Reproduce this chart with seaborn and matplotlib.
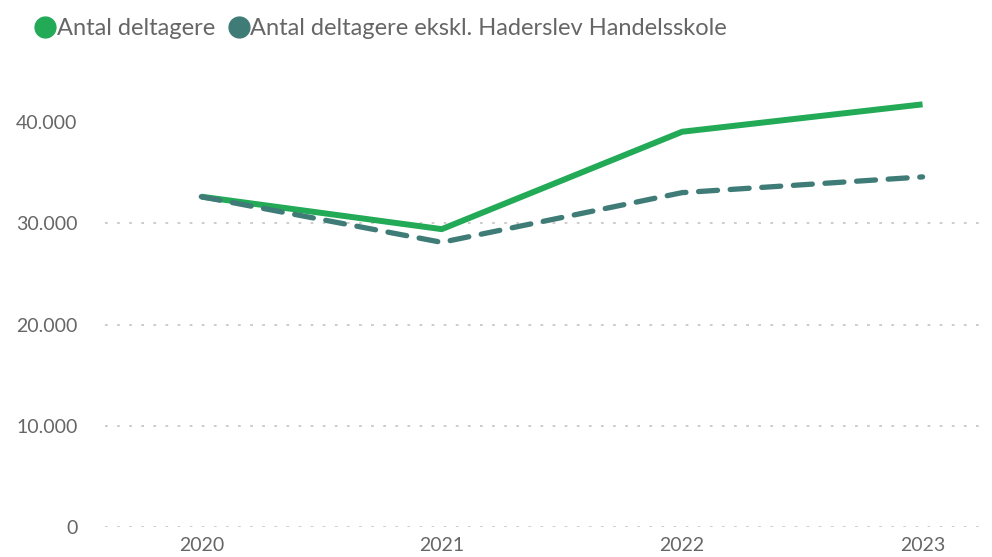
import pandas as pd
import matplotlib.pyplot as plt
import seaborn as sns
from matplotlib.lines import Line2D
from matplotlib.ticker import FuncFormatter

sns.set_style("white")
plt.rcParams["font.family"] = ["Lato", "DejaVu Sans"]

years = [2020, 2021, 2022, 2023]
deltagere = [32600, 29400, 39000, 41700]
deltagere_ekskl = [32600, 28100, 33000, 34550]
series_names = ["Antal deltagere", "Antal deltagere ekskl. Haderslev Handelsskole"]
colors = ["#22aa57", "#3f7c77"]
text_color = "#666666"

df = pd.DataFrame({
    "year": years * 2,
    "value": deltagere + deltagere_ekskl,
    "serie": [series_names[0]] * 4 + [series_names[1]] * 4,
})

fig = plt.figure(figsize=(9.92, 5.57), dpi=100)
ax = fig.add_axes([0.106, 0.053, 0.887, 0.838])

sns.lineplot(
    data=df[df["serie"] == series_names[0]],
    x="year", y="value",
    color=colors[0], linewidth=4.3, ax=ax,
    solid_capstyle="butt",
)
sns.lineplot(
    data=df[df["serie"] == series_names[1]],
    x="year", y="value",
    color=colors[1], linewidth=3.8, ax=ax,
    dashes=False,
)
ax.lines[1].set_dashes((3.6, 2.4))
ax.lines[1].set_dash_capstyle("round")

ax.set_xlim(2019.6, 2023.26)
ax.set_ylim(0, 46000)
ax.set_xticks(years)
ax.set_yticks([0, 10000, 20000, 30000, 40000])
ax.yaxis.set_major_formatter(
    FuncFormatter(lambda v, p: f"{int(v):,}".replace(",", "."))
)
ax.set_xlabel("")
ax.set_ylabel("")

ax.grid(axis="y", color="#c8c8c8", linewidth=1.3, linestyle=(0, (1.5, 5.2)))
ax.yaxis.get_gridlines()[4].set_visible(False)
ax.set_axisbelow(True)

ax.tick_params(axis="y", length=0, pad=20, labelsize=14, labelcolor=text_color)
ax.tick_params(axis="x", length=0, pad=7, labelsize=14, labelcolor=text_color)
for s in ax.spines.values():
    s.set_visible(False)

handles = [
    Line2D([], [], linestyle="none", marker="o", markersize=15,
           color=c) for c in colors
]
fig.legend(
    handles, series_names,
    loc="upper left", bbox_to_anchor=(0.012, 1.005),
    ncol=2, frameon=False, fontsize=17, labelcolor=text_color,
    handletextpad=0.0, columnspacing=0.5, handlelength=1.0,
)

plt.savefig("out.png", dpi=100)
